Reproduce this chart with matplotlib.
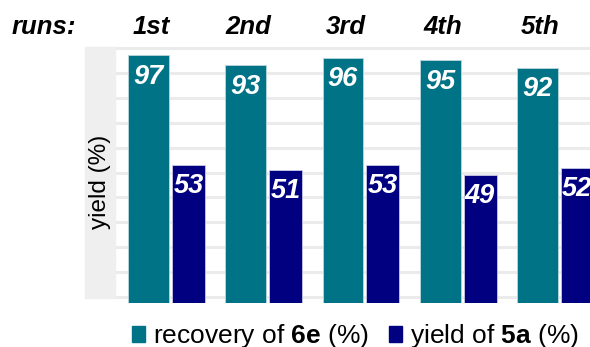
import numpy as np
import matplotlib.pyplot as plt
from matplotlib.patches import Rectangle, Patch
from matplotlib.transforms import blended_transform_factory

runs = ['1st', '2nd', '3rd', '4th', '5th']
recovery_6e = [97, 93, 96, 95, 92]
yield_5a = [53, 51, 53, 49, 52]

plt.rcParams['font.family'] = ['Liberation Sans', 'DejaVu Sans']
plt.rcParams['mathtext.fontset'] = 'custom'
plt.rcParams['mathtext.rm'] = 'Liberation Sans'
plt.rcParams['mathtext.bf'] = 'Liberation Sans:bold'

teal = '#007386'
navy = '#000080'
grid_c = '#ebebeb'

fig = plt.figure(figsize=(5.9, 3.47), dpi=100)
ax = fig.add_axes([115 / 590, 44 / 347, 475 / 590, 256 / 347])

# grey wall on the left of the plot
fig.patches.append(Rectangle((85 / 590, 1 - 298 / 347), 30 / 590, 251 / 347,
                             transform=fig.transFigure, color='#efefef', zorder=0))

x = np.arange(len(runs))
base = -2.4
w1, w2 = 0.42, 0.34
x1 = x - 0.185
x2 = x + 0.226
ax.bar(x1, np.array(recovery_6e) - base, w1, bottom=base, color=teal,
       edgecolor='#bcd6dc', linewidth=0.6, zorder=3)
ax.bar(x2, np.array(yield_5a) - base, w2, bottom=base, color=navy,
       edgecolor='#c8c8e4', linewidth=0.6, zorder=3)

for xs, vals in ((x1, recovery_6e), (x2, yield_5a)):
    for xi, v in zip(xs, vals):
        ax.annotate(str(v), (xi, v), xytext=(0, -6), textcoords='offset points',
                    ha='center', va='top', color='white', fontsize=19.5,
                    fontweight='bold', fontstyle='italic', zorder=4)

ax.set_xlim(-0.53, 4.357)
ax.set_ylim(base, 100.4)
ax.set_yticks(range(0, 101, 10))
ax.yaxis.grid(True, color=grid_c, linewidth=2.2)
ax.set_axisbelow(True)
ax.tick_params(left=False, bottom=False, labelleft=False, labelbottom=False)
for s in ax.spines.values():
    s.set_visible(False)

# run labels along the top
trans = blended_transform_factory(ax.transData, fig.transFigure)
for xi, r in zip(x1, runs):
    ax.text(xi + 0.03, 1 - 34.5 / 347, r, transform=trans, ha='center', va='baseline',
            fontsize=18.5, fontweight='bold', fontstyle='italic', clip_on=False)
fig.text(12 / 590, 1 - 34.5 / 347, 'runs:', ha='left', va='baseline',
         fontsize=18.5, fontweight='bold', fontstyle='italic')

fig.text(100 / 590, 1 - 182 / 347, 'yield (%)', rotation=90, ha='center', va='center',
         fontsize=17.5)

handles = [Patch(color=teal), Patch(color=navy)]
labels = [r'recovery of $\mathbf{6e}$ (%)', r'yield of $\mathbf{5a}$ (%)']
fig.legend(handles, labels, loc='center left', bbox_to_anchor=(132 / 590, 1 - 336 / 347),
           ncol=2, frameon=False, fontsize=19, borderpad=0, borderaxespad=0,
           handlelength=0.5, handleheight=0.55, handletextpad=0.3, columnspacing=0.75)

fig.savefig('out.png', dpi=100)
